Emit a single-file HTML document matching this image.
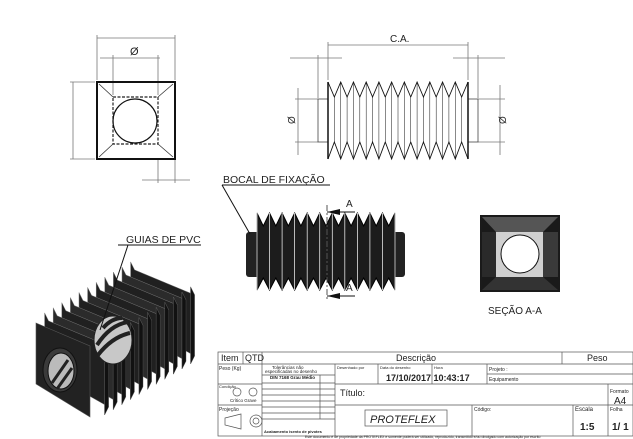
<!DOCTYPE html>
<html><head><meta charset="utf-8"><style>
body{margin:0;background:#fff;width:633px;height:439px;overflow:hidden}
svg{display:block}
text{font-family:"Liberation Sans",sans-serif;fill:#222}
</style></head><body>
<svg id="s" width="633" height="439" viewBox="0 0 633 439" xmlns="http://www.w3.org/2000/svg">
<g stroke="#777" stroke-width="0.8" fill="none">
<line x1="97" y1="35" x2="97" y2="80"/><line x1="175" y1="35" x2="175" y2="80"/>
<line x1="97" y1="38" x2="175" y2="38"/>
<line x1="113" y1="55" x2="113" y2="95"/><line x1="158" y1="55" x2="158" y2="95"/>
<line x1="100" y1="58" x2="160" y2="58"/>
<line x1="70" y1="82" x2="95" y2="82"/><line x1="70" y1="159" x2="95" y2="159"/>
<line x1="73" y1="82" x2="73" y2="159"/>
<line x1="158" y1="160" x2="158" y2="183"/><line x1="175" y1="160" x2="175" y2="183"/>
<line x1="142" y1="180" x2="190" y2="180"/>
<line x1="328" y1="42" x2="328" y2="80"/><line x1="468" y1="42" x2="468" y2="80"/>
<line x1="328" y1="45" x2="468" y2="45"/>
<line x1="318" y1="55" x2="318" y2="98"/><line x1="478" y1="55" x2="478" y2="98"/>
<line x1="290" y1="58" x2="342" y2="58"/><line x1="453" y1="58" x2="505" y2="58"/>
<line x1="295" y1="99" x2="318" y2="99"/><line x1="295" y1="142" x2="318" y2="142"/>
<line x1="298" y1="88" x2="298" y2="155"/>
<line x1="478" y1="99" x2="505" y2="99"/><line x1="478" y1="142" x2="505" y2="142"/>
<line x1="500" y1="85" x2="500" y2="155"/>
</g>
<text x="130" y="55" font-size="11" fill="#555">Ø</text>
<text x="390" y="42" font-size="10" fill="#666">C.A.</text>
<text x="292" y="127" font-size="10" fill="#555" transform="rotate(-90 292 124)">Ø</text>
<text x="503" y="127" font-size="10" fill="#555" transform="rotate(-90 503 124)">Ø</text>
<rect x="97" y="82" width="78" height="77" fill="none" stroke="#111" stroke-width="2"/>
<rect x="113" y="97" width="45" height="47" fill="none" stroke="#222" stroke-width="1.2" stroke-dasharray="3,1.5"/>
<g stroke="#333" stroke-width="0.8"><line x1="99" y1="84" x2="113" y2="97"/><line x1="173" y1="84" x2="158" y2="97"/><line x1="99" y1="157" x2="113" y2="144"/><line x1="173" y1="157" x2="158" y2="144"/></g>
<circle cx="135" cy="121" r="22" fill="none" stroke="#111" stroke-width="1.2"/>
<rect x="318" y="99" width="10" height="43" fill="none" stroke="#444" stroke-width="0.8"/>
<rect x="468" y="99" width="10" height="43" fill="none" stroke="#444" stroke-width="0.8"/>
<g id="side" stroke="#111" stroke-width="0.9" fill="none"></g>
<rect x="246" y="232" width="159" height="45" rx="3" fill="#222"/>
<g id="blk"></g>
<g stroke="#111" stroke-width="1" fill="none">
<line x1="222" y1="185" x2="330" y2="185"/><line x1="222" y1="185" x2="250" y2="234"/>
<line x1="327" y1="205" x2="327" y2="300" stroke-dasharray="6,2,2,2" stroke="#555"/>
<line x1="327" y1="212" x2="355" y2="212"/><line x1="327" y1="296" x2="355" y2="296"/>
</g>
<polygon points="327,212 340,209 340,215" fill="#111"/><polygon points="327,296 340,293 340,299" fill="#111"/>
<text x="223" y="183" font-size="10.5">BOCAL DE FIXAÇÃO</text>
<text x="346" y="207" font-size="10">A</text><text x="346" y="291" font-size="10">A</text>
<rect x="480" y="215" width="80" height="77" fill="#1a1a1a"/>
<polygon points="482,217 558,217 543,232 496,232" fill="#555"/>
<polygon points="482,290 558,290 543,277 496,277" fill="#333"/>
<polygon points="482,232 496,232 496,277 482,277" fill="#2a2a2a"/>
<polygon points="558,232 543,232 543,277 558,277" fill="#3a3a3a"/>
<rect x="496" y="232" width="47" height="45" fill="#d0d0d0"/>
<circle cx="520" cy="254" r="19" fill="#fff" stroke="#111"/>
<text x="488" y="314" font-size="10">SEÇÃO A-A</text>
<g id="iso"></g>
<g stroke="#111" stroke-width="1" fill="none">
<line x1="118" y1="245" x2="201" y2="245"/><line x1="128" y1="245" x2="100" y2="330"/>
</g>
<text x="126" y="243" font-size="10.5">GUIAS DE PVC</text>
<g stroke="#555" stroke-width="0.7" fill="none">
<rect x="218" y="352" width="415" height="84"/>
<line x1="218" y1="364" x2="633" y2="364"/>
<line x1="243" y1="352" x2="243" y2="364"/><line x1="262" y1="352" x2="262" y2="436"/>
<line x1="562" y1="352" x2="562" y2="364"/>
<line x1="218" y1="384" x2="262" y2="384"/><line x1="218" y1="405" x2="262" y2="405"/>
<line x1="335" y1="364" x2="335" y2="436"/>
<line x1="378" y1="364" x2="378" y2="384"/><line x1="432" y1="364" x2="432" y2="384"/><line x1="487" y1="364" x2="487" y2="384"/>
<line x1="487" y1="374" x2="633" y2="374"/>
<line x1="335" y1="384" x2="633" y2="384"/>
<line x1="335" y1="405" x2="633" y2="405"/>
<line x1="608" y1="384" x2="608" y2="436"/>
<line x1="472" y1="405" x2="472" y2="436"/><line x1="573" y1="405" x2="573" y2="436"/>
<line x1="262" y1="375" x2="335" y2="375"/>
<line x1="262" y1="383" x2="335" y2="383"/><line x1="262" y1="389" x2="335" y2="389"/><line x1="262" y1="395" x2="335" y2="395"/><line x1="262" y1="401" x2="335" y2="401"/><line x1="262" y1="407" x2="335" y2="407"/><line x1="262" y1="413" x2="335" y2="413"/><line x1="262" y1="419" x2="335" y2="419"/>
<line x1="320" y1="375" x2="320" y2="419"/>
<rect x="365" y="410" width="82" height="16"/>
<polygon points="225,418 241,414 241,429 225,425"/>
<circle cx="256" cy="421" r="6"/><circle cx="256" cy="421" r="3"/>
<circle cx="237" cy="392" r="4"/><circle cx="253" cy="392" r="4"/>
</g>
<g font-size="9">
<text x="221" y="361">Item</text><text x="245" y="361">QTD</text>
<text x="396" y="361">Descrição</text><text x="587" y="361">Peso</text>
</g>
<g font-size="5" fill="#444">
<text x="219" y="370">Peso (Kg)</text><text x="219" y="388" font-size="4">Condição</text>
<text x="230" y="402" font-size="4.5">Crítico Grave</text><text x="219" y="411">Projeção</text>
<text x="272" y="369" font-size="4.5">Tolerâncias não</text><text x="265" y="373" font-size="4.5">especificadas no desenho</text>
<text x="270" y="379" font-size="4.5" font-weight="bold">DIN 7168 Grau Médio</text>
<text x="337" y="369" font-size="4">Desenhado por</text><text x="380" y="369" font-size="4">Data do desenho</text><text x="434" y="369" font-size="4">Hora</text>
<text x="489" y="371">Projeto :</text><text x="489" y="381">Equipamento</text>
<text x="610" y="393">Formato</text><text x="610" y="411">Folha</text><text x="575" y="411" font-size="6">Escala</text><text x="474" y="411">Código:</text>
<text x="264" y="433" font-size="4" font-weight="bold">Acabamento isento de pivotes</text>
<text x="305" y="438" font-size="3.5">Este documento é de propriedade da PROTEFLEX e somente poderá ser utilizado, reproduzido, transmitido e/ou divulgado com autorização por escrito</text>
</g>
<text x="386" y="381" font-size="9" font-weight="bold">17/10/2017 10:43:17</text>
<text x="340" y="396" font-size="9">Título:</text>
<text x="614" y="404" font-size="10">A4</text>
<text x="580" y="430" font-size="10" font-weight="bold">1:5</text>
<text x="612" y="430" font-size="10" font-weight="bold">1/ 1</text>
<text x="370" y="423" font-size="11" font-style="italic">PROTEFLEX</text>
</svg>
<script>
var NS="http://www.w3.org/2000/svg";
function el(p,t,a){var e=document.createElementNS(NS,t);for(var k in a)e.setAttribute(k,a[k]);p.appendChild(e);return e;}
var g=document.getElementById("side");var n=11,x0=328,x1=468,w=(x1-x0)/n;
var tp="M"+x0+",82",bt="M"+x0+",159";
for(var i=0;i<n;i++){var a=x0+i*w;tp+=" L"+(a+w/2)+",97 L"+(a+w)+",82";bt+=" L"+(a+w/2)+",142 L"+(a+w)+",159";
el(g,"line",{x1:a+w/2,y1:97,x2:a+w/2,y2:142,"stroke-width":0.5});el(g,"line",{x1:a,y1:82,x2:a,y2:159,"stroke-width":0.5});}
el(g,"path",{d:tp});el(g,"path",{d:bt});
el(g,"line",{x1:x0,y1:82,x2:x0,y2:159,"stroke-width":1.5});el(g,"line",{x1:x1,y1:82,x2:x1,y2:159,"stroke-width":1.5});
var b=document.getElementById("blk");var bx0=257,bx1=395,bn=11,bw=(bx1-bx0)/bn;
var d="M"+bx0+",213";for(i=0;i<bn;i++){var a=bx0+i*bw;d+=" L"+(a+bw/2)+",226 L"+(a+bw)+",213";}
d+=" L"+bx1+",290";for(i=bn-1;i>=0;i--){var a=bx0+i*bw;d+=" L"+(a+bw/2)+",278 L"+a+",290";}
d+="Z";el(b,"path",{d:d,fill:"#1c1c1c",stroke:"#000"});
for(i=0;i<=bn;i++){var a=bx0+i*bw;el(b,"line",{x1:a,y1:213,x2:a,y2:290,stroke:"#fff","stroke-width":0.7});}
// iso box of folds
var s=document.getElementById("iso");
function P(pts){return pts.map(function(p){return p[0].toFixed(1)+","+p[1].toFixed(1)}).join(" ");}
for(i=11;i>=1;i--){var ox=i*8.6,oy=-i*5.1;
 // fold: peak parallelogram with small zig on top
 var tl=[36+ox,318+oy],tr=[96+ox,343+oy],br=[96+ox,420+oy],bl=[36+ox,386+oy];
 el(s,"polygon",{points:P([tl,[tl[0]+4,tl[1]+8],[tr[0]+4,tr[1]+8],tr,br,[br[0]+4,br[1]-8],[bl[0]+4,bl[1]-8],bl]),fill:i%2?"#202020":"#2b2b2b",stroke:"#777","stroke-width":0.5});
 el(s,"polygon",{points:P([tr,[tr[0]+4,tr[1]+8],[br[0]+4,br[1]-8],br]),fill:"#111",stroke:"#555","stroke-width":0.4});
}
el(s,"ellipse",{cx:113,cy:340,rx:19,ry:24,fill:"#c8c8c8",stroke:"#222"});
el(s,"path",{d:"M97,345 Q110,325 128,322 M98,355 Q112,337 130,333 M103,328 Q112,318 122,318",stroke:"#222","stroke-width":4,fill:"none"});
el(s,"polygon",{points:"36,323 90,346 90,417 36,384",fill:"#222",stroke:"#555","stroke-width":0.6});
el(s,"ellipse",{cx:60,cy:370,rx:17,ry:22,fill:"#3a3a3a",stroke:"#111"});
el(s,"ellipse",{cx:61,cy:371,rx:13,ry:18,fill:"#bbb",stroke:"#111"});
el(s,"path",{d:"M52,383 L68,360 M57,389 L72,368",stroke:"#222","stroke-width":3});
</script>
</body></html>
